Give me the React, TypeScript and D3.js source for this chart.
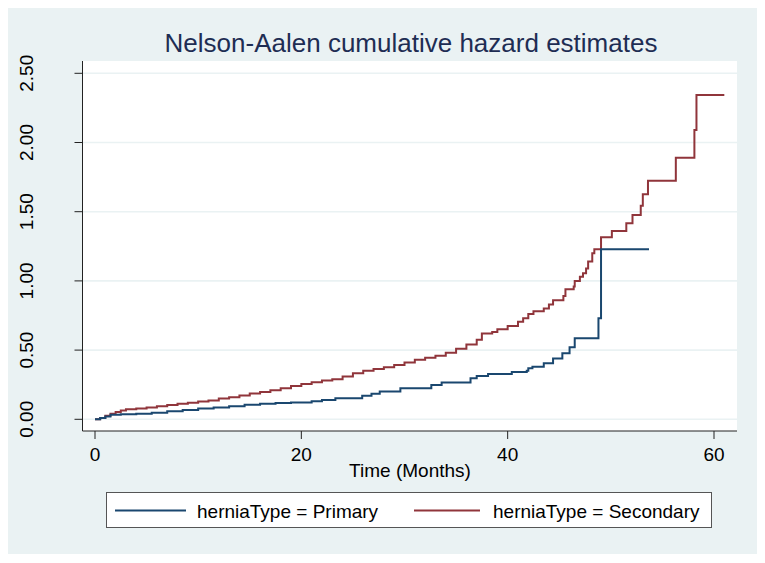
import React from "react";
import * as d3 from "d3";

const primaryTime = [0, 0.5, 1.0, 1.5, 2.5, 4.0, 5.5, 7.0, 8.5, 10.0, 11.5, 13.0, 14.5, 16.0, 17.5, 19.0, 21.0, 22.0, 23.3, 25.9, 26.8, 27.6, 29.6, 32.6, 33.6, 36.4, 37.0, 38.1, 40.4, 41.85, 42.0, 42.4, 43.5, 44.4, 45.3, 46.0, 46.5, 48.8, 49.05, 53.7];
const primaryHazard = [0, 0.01, 0.02, 0.032, 0.036, 0.04, 0.048, 0.058, 0.068, 0.078, 0.085, 0.094, 0.105, 0.112, 0.118, 0.122, 0.13, 0.14, 0.152, 0.17, 0.185, 0.2, 0.224, 0.248, 0.265, 0.296, 0.313, 0.327, 0.342, 0.351, 0.368, 0.38, 0.405, 0.44, 0.477, 0.52, 0.585, 0.73, 1.228, 1.228];

const secondaryTime = [0, 0.5, 1.0, 1.5, 2.0, 2.5, 3.0, 4.0, 5.0, 6.0, 7.0, 8.0, 9.0, 10.0, 11.0, 12.0, 13.0, 14.0, 15.0, 16.0, 17.0, 18.0, 19.0, 20.0, 21.0, 22.0, 23.0, 24.0, 25.0, 26.0, 27.0, 28.0, 29.0, 30.0, 31.0, 32.0, 33.0, 34.0, 35.0, 36.0, 37.0, 37.5, 38.5, 39.0, 40.0, 41.0, 41.5, 42.0, 42.5, 43.5, 44.0, 44.4, 45.4, 45.6, 46.4, 46.5, 47.0, 47.3, 47.6, 47.8, 48.2, 48.4, 49.05, 50.1, 51.5, 52.1, 52.9, 53.1, 53.6, 56.3, 58.1, 58.3, 61.0];
const secondaryHazard = [0, 0.01, 0.025, 0.04, 0.052, 0.063, 0.072, 0.078, 0.086, 0.095, 0.104, 0.112, 0.12, 0.128, 0.136, 0.15, 0.16, 0.172, 0.186, 0.198, 0.21, 0.225, 0.24, 0.255, 0.268, 0.28, 0.29, 0.31, 0.332, 0.35, 0.364, 0.376, 0.392, 0.41, 0.43, 0.445, 0.46, 0.48, 0.51, 0.54, 0.575, 0.62, 0.63, 0.65, 0.675, 0.705, 0.73, 0.76, 0.78, 0.8, 0.83, 0.86, 0.89, 0.94, 0.96, 1.0, 1.03, 1.055, 1.09, 1.14, 1.2, 1.228, 1.315, 1.36, 1.416, 1.476, 1.543, 1.626, 1.724, 1.89, 2.09, 2.343, 2.343];

const yTicks = [0, 0.5, 1.0, 1.5, 2.0, 2.5];
const xTicks = [0, 20, 40, 60];
const titleText = "Nelson-Aalen cumulative hazard estimates";
const xLabel = "Time (Months)";
const legendLabels = ["herniaType = Primary", "herniaType = Secondary"];

const BLUE = "#1A476F";
const RED = "#90353B";
const BG = "#EAF2F3";
const FONT = "'Liberation Sans', Arial, sans-serif";

export default function App() {
  const x = d3.scaleLinear().domain([0, 60]).range([95, 714]);
  const y = d3.scaleLinear().domain([0, 2.5]).range([419.3, 73.3]);
  const plotL = 82.5, plotR = 737, plotT = 61, plotB = 431;

  const line = d3
    .line<[number, number]>()
    .x((d) => x(d[0]))
    .y((d) => y(d[1]))
    .curve(d3.curveStepAfter);

  const pData = primaryTime.map((t, i) => [t, primaryHazard[i]] as [number, number]);
  const sData = secondaryTime.map((t, i) => [t, secondaryHazard[i]] as [number, number]);

  return (
    <svg
      width={765}
      height={563}
      style={{ position: "absolute", left: 0, top: 0, background: "#fff" }}
      fontFamily={FONT}
    >
      <rect x={8} y={8} width={749} height={546} fill={BG} />
      <rect x={plotL} y={plotT} width={plotR - plotL} height={plotB - plotT} fill="#fff" />
      {yTicks.map((t) => (
        <line key={"g" + t} x1={plotL} x2={plotR} y1={y(t)} y2={y(t)} stroke={BG} strokeWidth={1.6} />
      ))}
      <path d={line(sData) || ""} fill="none" stroke={RED} strokeWidth={2} />
      <path d={line(pData) || ""} fill="none" stroke={BLUE} strokeWidth={2} />
      {/* axes */}
      <line x1={plotL} x2={plotL} y1={plotT} y2={plotB} stroke="#222" strokeWidth={1} />
      <line x1={plotL} x2={plotR} y1={plotB} y2={plotB} stroke="#222" strokeWidth={1} />
      {yTicks.map((t) => (
        <g key={"y" + t}>
          <line x1={plotL - 8} x2={plotL} y1={y(t)} y2={y(t)} stroke="#222" strokeWidth={1} />
          <text
            transform={`translate(32.5,${y(t)}) rotate(-90)`}
            textAnchor="middle"
            fontSize={19}
            fill="#000"
          >
            {t.toFixed(2)}
          </text>
        </g>
      ))}
      {xTicks.map((t) => (
        <g key={"x" + t}>
          <line x1={x(t)} x2={x(t)} y1={plotB} y2={plotB + 8} stroke="#222" strokeWidth={1} />
          <text x={x(t)} y={460.5} textAnchor="middle" fontSize={19} fill="#000">
            {t}
          </text>
        </g>
      ))}
      <text x={410} y={477} textAnchor="middle" fontSize={19} fill="#000">
        {xLabel}
      </text>
      <text x={411} y={52} textAnchor="middle" fontSize={26} fill="#1E2D53">
        {titleText}
      </text>
      {/* legend */}
      <rect x={106.5} y={492.5} width={605} height={35} fill="#fff" stroke="#555" strokeWidth={1} />
      <line x1={115} x2={186} y1={510.5} y2={510.5} stroke={BLUE} strokeWidth={2} />
      <text x={197} y={518} fontSize={19} fill="#000">
        {legendLabels[0]}
      </text>
      <line x1={414} x2={480} y1={510.5} y2={510.5} stroke={RED} strokeWidth={2} />
      <text x={493} y={518} fontSize={19} fill="#000">
        {legendLabels[1]}
      </text>
    </svg>
  );
}
